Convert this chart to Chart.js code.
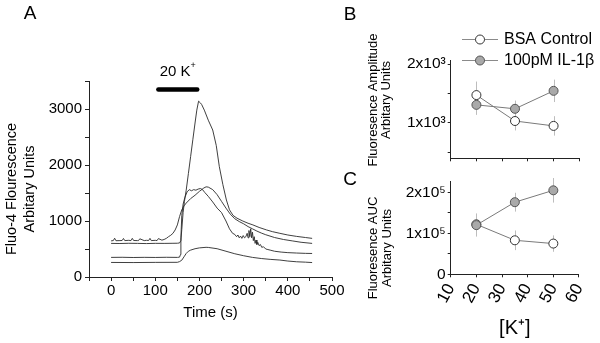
<!DOCTYPE html>
<html><head><meta charset="utf-8">
<script src="https://cdn.jsdelivr.net/npm/chart.js@4.4.1/dist/chart.umd.min.js"></script>
<style>
html,body{margin:0;padding:0;background:#fff;width:600px;height:343px;overflow:hidden}
.w{position:absolute}
canvas{display:block}
</style></head><body>
<div class="w" style="left:0;top:0;width:360px;height:343px"><canvas id="cA" width="360" height="343"></canvas></div>
<div class="w" style="left:360px;top:0;width:240px;height:170px"><canvas id="cB" width="240" height="170"></canvas></div>
<div class="w" style="left:360px;top:170px;width:240px;height:173px"><canvas id="cC" width="240" height="173"></canvas></div>
<script>
// ---------- Panel A: Fluo-4 traces (time in s, fluorescence in arbitrary units) ----------
const time1  = [0,5,8,11,20,25,28,31,40,45,48,51,60,62,65,75,80,85,88,91,100,104,107,115,120,125,130,135,140,145,150,155,160,165,170,180,190,200,210,215,220,230,240,250,260,270,280,290,300,310,320,330,340,350,370,390,410,430,455];
const trace1 = [645,650,692,648,650,652,688,650,655,650,690,652,650,650,682,650,655,652,690,650,655,650,686,658,670,690,720,745,780,840,930,1080,1200,1270,1320,1400,1460,1530,1590,1610,1605,1560,1470,1350,1230,1120,1040,990,950,900,860,820,785,755,705,670,645,620,600];

const time2  = [0,20,40,60,80,100,120,140,150,155,158,160,163,166,170,175,180,185,190,194,198,202,205,211,220,230,238,245,253,261,268,276,285,298,310,321,335,352,365,382,400,420,440,455];
const trace2 = [600,598,602,600,597,601,600,602,603,608,650,850,1150,1350,1550,1850,2150,2450,2750,2980,3140,3110,3080,2980,2800,2625,2350,1970,1650,1375,1200,1100,1050,1000,960,930,885,840,810,780,750,725,705,690];

const time3  = [0,25,50,75,100,125,150,155,157,158,160,163,167,172,177,182,187,192,197,202,207,212,220,230,240,250,260,268,275,280,284,287,290,293,296,299,302,305,308,310,312,314,316,318,320,322,324,326,328,330,332,335,338,341,345,350,355,360,370,385,400,420,440,455];
const trace3 = [350,352,348,351,349,352,350,355,400,700,1100,1300,1420,1520,1560,1540,1560,1550,1570,1580,1560,1510,1440,1340,1230,1150,1000,860,780,760,720,750,700,730,690,740,700,720,780,700,830,720,860,700,800,650,720,600,660,580,620,560,580,530,540,500,490,480,460,445,435,428,422,420];

const time4  = [0,50,100,150,155,160,165,170,175,180,190,200,215,220,240,260,280,300,320,340,360,382,400,420,440,455];
const trace4 = [260,258,261,262,275,300,360,420,460,480,505,520,530,528,505,460,415,380,350,330,315,303,285,272,265,258];

// stimulus bar: 20 mM K+
const stimTimes = [107, 195];
const stimLevel = 3350;
const stimLabel = '20 K';

// ---------- Panels B and C ----------
const kConc = [20, 35, 50];
const ampBSA = [1473, 1033, 950];
const ampBSAErr = [230, 160, 165];
const ampIL = [1307, 1240, 1545];
const ampILErr = [170, 140, 190];
const aucBSA = [122000, 83000, 75000];
const aucBSAErr = [26000, 24000, 20000];
const aucIL = [120000, 176000, 205000];
const aucILErr = [28000, 23000, 30000];

const ampTickValues = [500, 1000, 1500, 2000];
const ampTickText   = ['', '1x10³', '', '2x10³'];
const aucTickValues = [0, 50000, 100000, 150000, 200000];
const aucTickText   = ['0', '', '1x10⁵', '', '2x10⁵'];

const seriesNames = ['BSA Control', '100pM IL-1β'];

// ---------- helpers ----------
const FF = '"Liberation Sans", Arial, Helvetica, sans-serif';
Chart.defaults.font.family = FF;
Chart.defaults.color = '#000';
const toXY = (xs, ys) => xs.map((x, i) => ({x: x, y: ys[i]}));

function textPlugin(items) {
  return {
    id: 'texts',
    afterDraw(chart) {
      const ctx = chart.ctx;
      items.forEach(it => {
        const p = typeof it.pos === 'function' ? it.pos(chart) : it.pos;
        ctx.save();
        ctx.fillStyle = '#000';
        ctx.font = it.font;
        ctx.textAlign = 'center';
        ctx.textBaseline = 'middle';
        ctx.translate(p[0], p[1]);
        if (it.rot) ctx.rotate(it.rot);
        if (it.sup) {
          const w = ctx.measureText(it.text).width;
          ctx.font = it.supFont;
          const ws = ctx.measureText(it.sup).width;
          const x0 = -(w + ws) / 2;
          ctx.textAlign = 'left';
          ctx.font = it.font;
          ctx.fillText(it.text, x0, 0);
          ctx.font = it.supFont;
          ctx.fillText(it.sup, x0 + w, -6);
        } else {
          ctx.fillText(it.text, 0, 0);
        }
        ctx.restore();
      });
    }
  };
}

const errorBarPlugin = {
  id: 'errorBars',
  beforeDatasetsDraw(chart) {
    const ctx = chart.ctx, xs = chart.scales.x, ys = chart.scales.y;
    chart.data.datasets.forEach(ds => {
      if (!ds.errors) return;
      ctx.save();
      ctx.strokeStyle = '#bdbdbd';
      ctx.lineWidth = 1;
      ds.data.forEach((p, i) => {
        const px = Math.round(xs.getPixelForValue(p.x)) + 0.5;
        ctx.beginPath();
        ctx.moveTo(px, ys.getPixelForValue(p.y + ds.errors[i]));
        ctx.lineTo(px, ys.getPixelForValue(p.y - ds.errors[i]));
        ctx.stroke();
      });
      ctx.restore();
    });
  }
};

const legendPlugin = {
  id: 'lineLegend',
  afterDraw(chart) {
    const ctx = chart.ctx;
    const rows = [39, 60];
    const order = [0, 1];
    order.forEach((di, r) => {
      const ds = chart.data.datasets[di];
      const y = rows[r];
      ctx.save();
      ctx.strokeStyle = '#8a8a8a';
      ctx.lineWidth = 1;
      ctx.beginPath(); ctx.moveTo(102, y + 0.5); ctx.lineTo(138, y + 0.5); ctx.stroke();
      ctx.beginPath(); ctx.arc(120, y + 0.5, 4.5, 0, Math.PI * 2);
      ctx.fillStyle = ds.pointBackgroundColor; ctx.fill();
      ctx.strokeStyle = ds.pointBorderColor; ctx.stroke();
      ctx.fillStyle = '#000';
      ctx.font = '16px ' + FF;
      ctx.textAlign = 'left'; ctx.textBaseline = 'middle';
      ctx.fillText(ds.label, 144, y + 1);
      ctx.restore();
    });
  }
};

const traceStyle = {borderColor: '#2a2a2a', borderWidth: 0.9, pointRadius: 0, fill: false, tension: 0};
const axisGrid = {drawOnChartArea: false, tickLength: 4, color: '#222', tickWidth: 1};
const axisBorder = {color: '#222', width: 1};
const common = {responsive: false, animation: false, events: []};

// ---------- Chart A ----------
new Chart(document.getElementById('cA'), {
  type: 'line',
  data: {datasets: [
    Object.assign({label: 'Trace 1', data: toXY(time1, trace1)}, traceStyle),
    Object.assign({label: 'Trace 2', data: toXY(time2, trace2)}, traceStyle),
    Object.assign({label: 'Trace 3', data: toXY(time3, trace3)}, traceStyle),
    Object.assign({label: 'Trace 4', data: toXY(time4, trace4)}, traceStyle),
    {label: stimLabel, data: toXY(stimTimes, stimTimes.map(() => stimLevel)), borderColor: '#000', borderWidth: 4.5, borderCapStyle: 'round', pointRadius: 0}
  ]},
  options: Object.assign({}, common, {
    layout: {padding: {left: 0, top: 81, right: 28, bottom: 17}},
    plugins: {legend: {display: false}, tooltip: {enabled: false}},
    scales: {
      x: {type: 'linear', min: -50, max: 500,
          ticks: {stepSize: 50, autoSkip: false, maxRotation: 0, padding: 1, font: {size: 15},
                  callback: v => (v % 100 === 0 ? String(v) : '')},
          grid: axisGrid, border: axisBorder,
          title: {display: true, text: 'Time (s)', font: {size: 15}, padding: {top: 0, bottom: 4}},
          afterFit: s => { s.height = 49; }},
      y: {type: 'linear', min: 0, max: 3500,
          ticks: {stepSize: 500, autoSkip: false, padding: 3, font: {size: 15},
                  callback: v => (v % 1000 === 0 ? String(v) : '')},
          grid: axisGrid, border: axisBorder,
          afterFit: s => { s.width = 89; }}
    }
  }),
  plugins: [textPlugin([
    {text: 'A', pos: [30, 14], font: '19px ' + FF},
    {text: 'B', pos: [350, 15], font: '19px ' + FF},
    {text: 'C', pos: [350, 180], font: '19px ' + FF},
    {text: stimLabel, sup: '+', font: '15px ' + FF, supFont: '9px ' + FF,
     pos: ch => [ch.scales.x.getPixelForValue((stimTimes[0] + stimTimes[1]) / 2), ch.scales.y.getPixelForValue(stimLevel) - 18]},
    {text: 'Fluo-4 Flourescence', pos: [12, 189], rot: -Math.PI / 2, font: '14.5px ' + FF},
    {text: 'Arbitary Units', pos: [30, 189], rot: -Math.PI / 2, font: '14.5px ' + FF}
  ])]
});

// ---------- Chart B ----------
function seriesSets(bsa, bsaErr, il, ilErr) {
  return [
    {label: seriesNames[0], data: toXY(kConc, bsa), errors: bsaErr, borderColor: '#7a7a7a', borderWidth: 1,
     pointRadius: 4.5, pointBackgroundColor: '#ffffff', pointBorderColor: '#333333', pointBorderWidth: 1, order: 1},
    {label: seriesNames[1], data: toXY(kConc, il), errors: ilErr, borderColor: '#7a7a7a', borderWidth: 1,
     pointRadius: 4.5, pointBackgroundColor: '#a9a9a9', pointBorderColor: '#555555', pointBorderWidth: 1, order: 0}
  ];
}

new Chart(document.getElementById('cB'), {
  type: 'line',
  data: {datasets: seriesSets(ampBSA, ampBSAErr, ampIL, ampILErr)},
  options: Object.assign({}, common, {
    layout: {padding: {left: 0, top: 60.5, right: 20.7, bottom: 0}},
    plugins: {legend: {display: false}, tooltip: {enabled: false}},
    scales: {
      x: {type: 'linear', min: 10, max: 60,
          ticks: {stepSize: 10, autoSkip: false, maxRotation: 0, callback: () => ''},
          grid: Object.assign({}, axisGrid, {tickLength: 3}), border: axisBorder,
          afterFit: s => { s.height = 11.7; }},
      y: {type: 'linear', min: 400, max: 2060,
          afterBuildTicks: s => { s.ticks = ampTickValues.map(v => ({value: v})); },
          ticks: {padding: 2, font: {size: 15.5}, callback: v => ampTickText[ampTickValues.indexOf(v)] || ''},
          grid: Object.assign({}, axisGrid, {tickLength: 3}), border: axisBorder,
          afterFit: s => { s.width = 90.7; }}
    }
  }),
  plugins: [errorBarPlugin, legendPlugin, textPlugin([
    {text: 'Fluoresence Amplitude', pos: [13, 100], rot: -Math.PI / 2, font: '13px ' + FF},
    {text: 'Arbitary Units', pos: [26, 100], rot: -Math.PI / 2, font: '13px ' + FF}
  ])]
});

// ---------- Chart C ----------
new Chart(document.getElementById('cC'), {
  type: 'line',
  data: {datasets: seriesSets(aucBSA, aucBSAErr, aucIL, aucILErr)},
  options: Object.assign({}, common, {
    layout: {padding: {left: 0, top: 8, right: 20.7, bottom: 0}},
    plugins: {legend: {display: false}, tooltip: {enabled: false}},
    scales: {
      x: {type: 'linear', min: 10, max: 60,
          ticks: {stepSize: 10, autoSkip: false, minRotation: 62, maxRotation: 62, padding: 3, font: {size: 17},
                  callback: v => String(v)},
          grid: Object.assign({}, axisGrid, {tickLength: 3}), border: axisBorder,
          title: {display: true, text: '[K⁺]', font: {size: 20}, padding: {top: 0, bottom: 3}},
          afterFit: s => { s.height = 68.7; }},
      y: {type: 'linear', min: 0, max: 227000,
          afterBuildTicks: s => { s.ticks = aucTickValues.map(v => ({value: v})); },
          ticks: {padding: 2, font: {size: 15.5}, callback: v => aucTickText[aucTickValues.indexOf(v)] || ''},
          grid: Object.assign({}, axisGrid, {tickLength: 3}), border: axisBorder,
          afterFit: s => { s.width = 90.7; }}
    }
  }),
  plugins: [errorBarPlugin, textPlugin([
    {text: 'Fluoresence AUC', pos: [13, 78], rot: -Math.PI / 2, font: '13px ' + FF},
    {text: 'Arbitary Units', pos: [27, 78], rot: -Math.PI / 2, font: '13px ' + FF}
  ])]
});
</script>
</body></html>
